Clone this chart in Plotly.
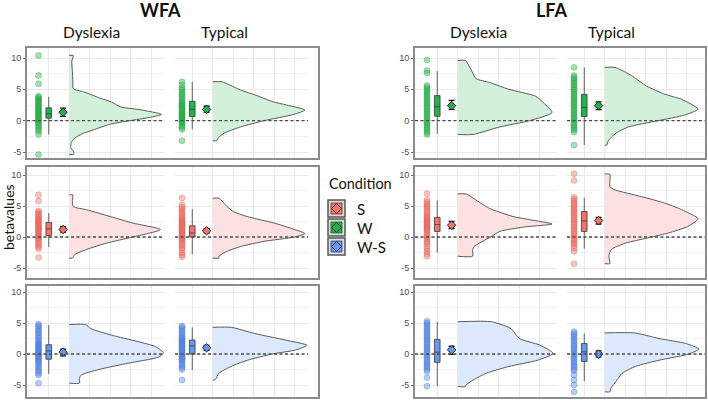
import plotly.graph_objects as go

W_PX, H_PX = 708, 400

# ---------------- data ----------------
panels = ["WFA", "LFA"]
groups = ["Dyslexia", "Typical"]
conditions = ["W", "S", "W-S"]          # rows, top to bottom
legend_order = ["S", "W", "W-S"]

# box = [lower whisker, q1, median, q3, upper whisker]; mean = [mean, low, high]
# violin: vy = heights, vw = half-violin widths (x units)

# WFA / Dyslexia
wfa_dys_w_pts = [10.4, 7.2, 5.9, 3.9, 3.7, 3.5, 3.3, 3.1, 2.9, 2.7, 2.5, 2.3, 2.1, 1.9, 1.7, 1.5,
                 1.3, 1.1, 0.9, 0.7, 0.5, 0.3, 0.1, -0.1, -0.3, -0.5, -0.8, -1.1, -1.4, -1.7, -2.2, -5.4]
wfa_dys_w_box = [-2.2, 0.4, 1.1, 2.05, 3.8]
wfa_dys_w_mean = [1.35, 0.7, 2.0]
wfa_dys_w_vy = [10.4, 9.5, 8.0, 6.5, 5.1, 4.6, 3.6, 3.0, 2.2, 1.75, 1.0, 0.5, 0.0, -0.55, -1.5, -2.0,
                -2.75, -3.5, -4.3, -5.0, -5.4]
wfa_dys_w_vw = [0.4, 0.25, 0.3, 0.35, 0.4, 1.4, 3.0, 4.1, 5.0, 6.9, 9.0, 7.8, 5.9, 4.0, 2.3, 1.4,
                0.55, 0.2, 0.15, 0.45, 0.4]

wfa_dys_s_pts = [6.8, 5.8, 4.2, 4.0, 3.7, 3.5, 3.2, 3.0, 2.8, 2.6, 2.4, 2.2, 2.0, 1.8, 1.6, 1.4,
                 1.2, 1.0, 0.8, 0.6, 0.4, 0.2, 0.0, -0.2, -0.4, -0.7, -1.0, -1.3, -1.6, -1.9, -3.3]
wfa_dys_s_box = [-1.6, 0.25, 1.3, 2.35, 3.85]
wfa_dys_s_mean = [1.2, 0.8, 1.65]
wfa_dys_s_vy = [6.8, 5.9, 4.9, 4.4, 3.3, 2.25, 1.2, 0.0, -1.0, -2.0, -2.8, -3.4]
wfa_dys_s_vw = [0.35, 0.3, 0.4, 1.7, 4.0, 6.2, 8.9, 6.2, 3.6, 1.7, 0.55, 0.3]

wfa_dys_ws_pts = [4.8, 4.6, 4.3, 4.0, 3.7, 3.4, 3.1, 2.8, 2.5, 2.2, 1.9, 1.7, 1.5, 1.3, 1.1, 0.9,
                  0.7, 0.5, 0.3, 0.1, -0.1, -0.3, -0.5, -0.7, -0.9, -1.1, -1.3, -1.6, -1.9, -2.2,
                  -2.5, -2.8, -3.1, -3.4, -4.7]
wfa_dys_ws_box = [-3.2, -0.85, 0.5, 1.5, 4.65]
wfa_dys_ws_mean = [0.3, -0.3, 0.8]
wfa_dys_ws_vy = [4.75, 4.1, 3.05, 2.0, 1.2, 0.2, -0.5, -1.5, -2.3, -3.1, -3.5, -4.0, -4.7]
wfa_dys_ws_vw = [1.6, 2.1, 4.1, 6.7, 8.4, 9.2, 8.7, 5.7, 3.4, 1.6, 1.1, 1.0, 1.0]

# WFA / Typical
wfa_typ_w_pts = [6.2, 5.7, 5.2, 4.9, 4.6, 4.3, 4.0, 3.7, 3.4, 3.1, 2.9, 2.7, 2.5, 2.3, 2.1, 1.9,
                 1.7, 1.5, 1.3, 1.1, 0.9, 0.7, 0.5, 0.3, 0.1, -0.1, -0.3, -0.5, -0.8, -1.1, -1.4, -3.2]
wfa_typ_w_box = [-1.4, 0.65, 1.8, 3.1, 6.2]
wfa_typ_w_mean = [1.8, 1.35, 2.3]
wfa_typ_w_vy = [6.2, 4.9, 4.0, 3.0, 2.5, 1.7, 1.0, 0.0, -1.0, -2.0, -2.8, -3.2]
wfa_typ_w_vw = [0.9, 2.7, 4.3, 5.9, 7.2, 9.0, 7.9, 5.0, 2.7, 1.1, 0.5, 0.4]

wfa_typ_s_pts = [6.3, 5.2, 4.8, 4.5, 4.2, 3.9, 3.6, 3.3, 3.0, 2.8, 2.6, 2.4, 2.2, 2.0, 1.8, 1.6,
                 1.4, 1.2, 1.0, 0.8, 0.6, 0.4, 0.2, 0.0, -0.2, -0.4, -0.6, -0.9, -1.2, -1.5, -1.8,
                 -2.1, -2.6, -2.9, -3.2]
wfa_typ_s_box = [-2.8, 0.0, 0.65, 1.8, 4.5]
wfa_typ_s_mean = [1.0, 0.65, 1.35]
wfa_typ_s_vy = [6.25, 4.9, 4.1, 3.3, 2.25, 1.2, 0.55, 0.0, -0.7, -1.5, -2.3, -3.1, -3.4]
wfa_typ_s_vw = [0.6, 1.4, 2.0, 3.35, 6.0, 8.0, 9.0, 8.0, 5.0, 2.8, 1.4, 0.6, 0.6]

wfa_typ_ws_pts = [4.5, 4.3, 4.0, 3.7, 3.4, 3.1, 2.8, 2.6, 2.4, 2.2, 2.0, 1.8, 1.6, 1.4, 1.2, 1.0,
                  0.8, 0.6, 0.4, 0.2, 0.0, -0.2, -0.4, -0.6, -0.8, -1.0, -1.3, -1.6, -1.9, -2.2,
                  -2.5, -4.2]
wfa_typ_ws_box = [-2.6, 0.0, 1.3, 2.25, 4.3]
wfa_typ_ws_mean = [1.0, 0.6, 1.4]
wfa_typ_ws_vy = [4.3, 3.3, 2.25, 1.4, 0.65, 0.0, -1.0, -2.0, -3.1, -4.0, -4.2]
wfa_typ_ws_vw = [1.8, 4.1, 7.1, 9.2, 8.1, 5.8, 3.4, 1.8, 0.6, 0.3, 0.2]

# LFA / Dyslexia
lfa_dys_w_pts = [9.7, 8.0, 7.6, 5.6, 5.3, 5.0, 4.7, 4.4, 4.1, 3.8, 3.5, 3.2, 2.9, 2.6, 2.3, 2.0,
                 1.7, 1.4, 1.1, 0.8, 0.5, 0.2, -0.1, -0.4, -0.7, -1.0, -1.3, -1.6, -1.9, -2.2]
lfa_dys_w_box = [-2.1, 0.7, 2.2, 4.0, 7.9]
lfa_dys_w_mean = [2.4, 1.8, 3.25]
lfa_dys_w_vy = [9.6, 8.3, 6.7, 6.1, 5.0, 3.9, 2.8, 1.3, 0.0, -1.0, -2.2]
lfa_dys_w_vw = [0.75, 1.25, 1.8, 3.1, 5.0, 7.6, 8.4, 9.2, 7.0, 4.1, 1.5]

lfa_dys_s_pts = [7.0, 6.0, 5.6, 5.3, 5.0, 4.7, 4.4, 4.1, 3.8, 3.5, 3.2, 3.0, 2.8, 2.6, 2.4, 2.2,
                 2.0, 1.8, 1.6, 1.4, 1.2, 1.0, 0.7, 0.4, 0.1, -0.2, -0.5, -0.8, -1.1, -1.5, -1.9,
                 -2.3, -2.7, -3.1]
lfa_dys_s_box = [-2.5, 0.9, 2.0, 3.15, 5.9]
lfa_dys_s_mean = [1.9, 1.35, 2.5]
lfa_dys_s_vy = [6.95, 5.5, 4.6, 3.3, 2.8, 2.1, 1.6, 0.9, 0.0, -1.0, -1.5, -2.0, -3.1]
lfa_dys_s_vw = [0.8, 2.2, 3.1, 5.4, 7.0, 9.2, 6.4, 4.1, 3.2, 2.1, 1.6, 1.45, 1.45]

lfa_dys_ws_pts = [5.3, 5.0, 4.7, 4.4, 4.1, 3.8, 3.5, 3.2, 2.9, 2.6, 2.3, 2.0, 1.7, 1.4, 1.1, 0.8,
                  0.5, 0.2, -0.1, -0.4, -0.7, -1.0, -1.3, -1.6, -1.9, -2.2, -2.5, -2.8, -3.8, -5.2]
lfa_dys_ws_box = [-5.2, -1.35, 0.3, 2.35, 5.2]
lfa_dys_ws_mean = [0.65, -0.05, 1.25]
lfa_dys_ws_vy = [5.2, 4.1, 2.5, 1.45, 0.1, -1.0, -2.0, -3.1, -4.2, -5.0, -5.25]
lfa_dys_ws_vw = [3.3, 5.2, 6.0, 8.0, 9.3, 7.8, 5.0, 2.8, 1.5, 0.8, 0.75]

# LFA / Typical
lfa_typ_w_pts = [8.5, 7.2, 6.9, 6.6, 6.3, 6.0, 5.7, 5.4, 5.1, 4.8, 4.5, 4.2, 3.9, 3.6, 3.3, 3.0,
                 2.7, 2.4, 2.1, 1.8, 1.5, 1.2, 0.9, 0.6, 0.3, 0.0, -0.3, -0.6, -0.9, -1.2, -1.5,
                 -1.8, -3.9]
lfa_typ_w_box = [-3.9, 0.65, 2.1, 4.2, 8.5]
lfa_typ_w_mean = [2.4, 1.75, 3.0]
lfa_typ_w_vy = [8.5, 7.2, 5.5, 4.2, 3.4, 1.85, 0.9, 0.0, -1.0, -2.1, -3.2, -3.9]
lfa_typ_w_vw = [1.0, 2.6, 4.1, 5.9, 7.5, 9.1, 7.8, 5.2, 2.3, 1.0, 0.35, 0.2]

lfa_typ_s_pts = [10.2, 9.1, 6.4, 6.1, 5.8, 5.5, 5.2, 4.9, 4.6, 4.3, 4.0, 3.7, 3.4, 3.1, 2.8, 2.5,
                 2.2, 1.9, 1.6, 1.3, 1.0, 0.7, 0.4, 0.1, -0.2, -0.5, -0.8, -1.1, -1.4, -1.8, -2.3, -4.3]
lfa_typ_s_box = [-1.9, 0.9, 2.6, 4.1, 6.35]
lfa_typ_s_mean = [2.65, 2.1, 3.15]
lfa_typ_s_vy = [10.15, 9.0, 8.1, 7.6, 6.5, 5.45, 4.4, 2.95, 1.7, 0.65, 0.0, -1.0, -2.0, -3.0, -4.3]
lfa_typ_s_vw = [0.5, 0.5, 0.5, 1.0, 3.6, 5.9, 7.5, 9.1, 8.1, 6.2, 4.6, 2.0, 0.65, 0.4, 0.5]

lfa_typ_ws_pts = [3.6, 3.3, 3.0, 2.7, 2.4, 2.1, 1.8, 1.5, 1.2, 0.9, 0.6, 0.3, 0.0, -0.3, -0.6, -0.9,
                  -1.2, -1.5, -1.8, -2.1, -2.4, -2.7, -3.4, -4.2, -5.0, -6.1]
lfa_typ_ws_box = [-4.4, -1.2, 0.35, 1.7, 3.3]
lfa_typ_ws_mean = [0.0, -0.45, 0.5]
lfa_typ_ws_vy = [3.4, 2.5, 1.7, 0.8, 0.0, -1.0, -2.0, -3.1, -4.4, -5.5, -6.1]
lfa_typ_ws_vw = [2.9, 5.3, 7.9, 9.2, 8.2, 5.3, 3.0, 1.7, 1.1, 0.6, 0.5]

cells = {
    ("WFA", "Dyslexia", "W"): (wfa_dys_w_pts, wfa_dys_w_box, wfa_dys_w_mean, wfa_dys_w_vy, wfa_dys_w_vw),
    ("WFA", "Dyslexia", "S"): (wfa_dys_s_pts, wfa_dys_s_box, wfa_dys_s_mean, wfa_dys_s_vy, wfa_dys_s_vw),
    ("WFA", "Dyslexia", "W-S"): (wfa_dys_ws_pts, wfa_dys_ws_box, wfa_dys_ws_mean, wfa_dys_ws_vy, wfa_dys_ws_vw),
    ("WFA", "Typical", "W"): (wfa_typ_w_pts, wfa_typ_w_box, wfa_typ_w_mean, wfa_typ_w_vy, wfa_typ_w_vw),
    ("WFA", "Typical", "S"): (wfa_typ_s_pts, wfa_typ_s_box, wfa_typ_s_mean, wfa_typ_s_vy, wfa_typ_s_vw),
    ("WFA", "Typical", "W-S"): (wfa_typ_ws_pts, wfa_typ_ws_box, wfa_typ_ws_mean, wfa_typ_ws_vy, wfa_typ_ws_vw),
    ("LFA", "Dyslexia", "W"): (lfa_dys_w_pts, lfa_dys_w_box, lfa_dys_w_mean, lfa_dys_w_vy, lfa_dys_w_vw),
    ("LFA", "Dyslexia", "S"): (lfa_dys_s_pts, lfa_dys_s_box, lfa_dys_s_mean, lfa_dys_s_vy, lfa_dys_s_vw),
    ("LFA", "Dyslexia", "W-S"): (lfa_dys_ws_pts, lfa_dys_ws_box, lfa_dys_ws_mean, lfa_dys_ws_vy, lfa_dys_ws_vw),
    ("LFA", "Typical", "W"): (lfa_typ_w_pts, lfa_typ_w_box, lfa_typ_w_mean, lfa_typ_w_vy, lfa_typ_w_vw),
    ("LFA", "Typical", "S"): (lfa_typ_s_pts, lfa_typ_s_box, lfa_typ_s_mean, lfa_typ_s_vy, lfa_typ_s_vw),
    ("LFA", "Typical", "W-S"): (lfa_typ_ws_pts, lfa_typ_ws_box, lfa_typ_ws_mean, lfa_typ_ws_vy, lfa_typ_ws_vw),
}

# ---------------- styles / layout ----------------
colors = {
    "W": dict(point="rgba(40,180,75,0.42)", edge="rgba(30,150,60,0.55)", box="#22b14c",
              violin="#d3f1da", key="#c6ebcf"),
    "S": dict(point="rgba(240,110,100,0.40)", edge="rgba(210,80,70,0.5)", box="#f2736a",
              violin="#fde1e1", key="#f9cfcf"),
    "W-S": dict(point="rgba(85,135,230,0.42)", edge="rgba(60,110,210,0.55)", box="#6897ee",
                violin="#dce8fb", key="#d2e1f8"),
}

PX = 10.25  # pixels per x unit
X_BOX, X_MEAN, X_VIOLIN = 1.0, 2.4, 3.0
# left, right, pixel of x=0 for each subplot column
col_px = {("WFA", "Dyslexia"): (27, 164, 38.5), ("WFA", "Typical"): (175, 308, 182),
          ("LFA", "Dyslexia"): (415, 557, 427), ("LFA", "Typical"): (567, 705, 574)}
# top, bottom, pixel of y=10, pixel of y=-5 for each row
row_px = [(48, 158, 58, 152), (167, 278, 175, 268), (286, 397, 292, 385)]
frame_x = {"WFA": (26, 319), "LFA": (414, 706)}
frame_y = [(47, 159), (166, 279), (285, 398)]

FONT = "Lato"
GRID = "#e9e9e9"

fig = go.Figure()
axes = {}
shapes = []

for pi, panel in enumerate(panels):
    for ri, cond in enumerate(conditions):
        t, b, y10, ym5 = row_px[ri]
        p = (ym5 - y10) / 15
        yr = [-5 - (b - ym5) / p, 10 + (y10 - t) / p]
        c = colors[cond]
        for gi, group in enumerate(groups):
            n = 1 + pi * 6 + ri * 2 + gi
            sfx = "" if n == 1 else str(n)
            left, right, x0 = col_px[(panel, group)]
            axes["xaxis" + sfx] = dict(
                domain=[left / W_PX, right / W_PX], range=[(left - x0) / PX, (right - x0) / PX],
                anchor="y" + sfx, type="linear", tickvals=[1, 3, 5, 7, 9, 11], showticklabels=False,
                showgrid=True, gridcolor=GRID, gridwidth=1, zeroline=False, ticks="", fixedrange=True)
            axes["yaxis" + sfx] = dict(
                domain=[1 - b / H_PX, 1 - t / H_PX], range=yr, anchor="x" + sfx,
                tickvals=[-5, 0, 5, 10], ticktext=["-5", "0", "5", "10"],
                showticklabels=(gi == 0), ticks="outside" if gi == 0 else "", ticklen=3,
                tickcolor="#666", tickfont=dict(family="Liberation Sans", size=9, color="#4d4d4d"),
                showgrid=True, gridcolor=GRID, gridwidth=1, zeroline=False, automargin=False,
                minor=dict(tickvals=[-2.5, 2.5, 7.5], showgrid=True, gridcolor="#f3f3f3", ticks=""))

            pts, box, mean, vy, vw = cells[(panel, group, cond)]
            xa, ya = "x" + sfx, "y" + sfx

            # half violin (outline smoothed; the base edge closes straight)
            fig.add_trace(go.Scatter(
                x=[X_VIOLIN] + [X_VIOLIN + w for w in vw] + [X_VIOLIN],
                y=[vy[0]] + vy + [vy[-1]], mode="lines", fill="toself",
                fillcolor=c["violin"], line=dict(color="#5a5a5a", width=1, shape="spline", smoothing=0.6),
                xaxis=xa, yaxis=ya, showlegend=False, hoverinfo="skip"))
            # raw points
            fig.add_trace(go.Scatter(
                x=[0] * len(pts), y=pts, mode="markers",
                marker=dict(size=6, color=c["point"], line=dict(width=0.6, color=c["edge"])),
                xaxis=xa, yaxis=ya, showlegend=False))
            # box
            fig.add_trace(go.Box(
                x=[X_BOX], lowerfence=[box[0]], q1=[box[1]], median=[box[2]], q3=[box[3]],
                upperfence=[box[4]], width=0.55, whiskerwidth=0, fillcolor=c["box"],
                line=dict(color="#3a3a3a", width=0.8), boxpoints=False,
                xaxis=xa, yaxis=ya, showlegend=False))
            # mean + error bar
            fig.add_trace(go.Scatter(
                x=[X_MEAN], y=[mean[0]], mode="markers",
                marker=dict(symbol="diamond", size=6.5, color=c["box"], line=dict(color="#222", width=1)),
                error_y=dict(type="data", symmetric=False, array=[mean[2] - mean[0]],
                             arrayminus=[mean[0] - mean[1]], color="#111", thickness=1.3, width=3),
                xaxis=xa, yaxis=ya, showlegend=False))
            # dashed zero line
            shapes.append(dict(type="line", xref=xa + " domain", x0=0, x1=1, yref=ya, y0=0, y1=0,
                               line=dict(color="#4a4a4a", width=1.3, dash="3px,2.5px"), layer="above"))

        fx0, fx1 = frame_x[panel]
        fy0, fy1 = frame_y[ri]
        shapes.append(dict(type="rect", xref="paper", yref="paper",
                           x0=fx0 / W_PX, x1=fx1 / W_PX, y0=1 - fy1 / H_PX, y1=1 - fy0 / H_PX,
                           line=dict(color="#8c8c8c", width=2), fillcolor="rgba(0,0,0,0)"))

annotations = []


def text(s, x, y, size, bold=False, xanchor="center", angle=0):
    annotations.append(dict(text=f"<b>{s}</b>" if bold else s, x=x / W_PX, y=1 - y / H_PX,
                            xref="paper", yref="paper", showarrow=False, xanchor=xanchor,
                            yanchor="middle", textangle=angle,
                            font=dict(family=FONT, size=size, color="#111")))


text("WFA", 160, 10, 18, bold=True)
text("LFA", 551, 10, 18, bold=True)
text("Dyslexia", 91, 32, 15.5)
text("Typical", 224, 32, 15.5)
text("Dyslexia", 478, 32, 15.5)
text("Typical", 611, 32, 15.5)
text("betavalues", 8, 217, 14, angle=-90)

# legend
text("Condition", 327, 183, 14.5, xanchor="left")
for li, cond in enumerate(legend_order):
    c = colors[cond]
    top = 200 + li * 19
    kx0, kx1, ky0, ky1 = 328, 345, top, top + 17
    shapes.append(dict(type="rect", xref="paper", yref="paper", x0=kx0 / W_PX, x1=kx1 / W_PX,
                       y0=1 - ky1 / H_PX, y1=1 - ky0 / H_PX, fillcolor=c["key"],
                       line=dict(color="#555", width=1.5)))
    shapes.append(dict(type="rect", xref="paper", yref="paper", x0=(kx0 + 3) / W_PX,
                       x1=(kx1 - 3) / W_PX, y0=1 - (ky1 - 3) / H_PX, y1=1 - (ky0 + 3) / H_PX,
                       fillcolor=c["box"], line=dict(color="#444", width=0.8)))
    cx, cy = (kx0 + kx1) / 2, (ky0 + ky1) / 2
    shapes.append(dict(type="path", xref="paper", yref="paper",
                       path=(f"M {(cx - 5) / W_PX} {1 - cy / H_PX} L {cx / W_PX} {1 - (cy - 5) / H_PX} "
                             f"L {(cx + 5) / W_PX} {1 - cy / H_PX} L {cx / W_PX} {1 - (cy + 5) / H_PX} Z"),
                       fillcolor=c["box"], line=dict(color="#333", width=1)))
    text(cond, 355, cy, 15, xanchor="left")

fig.update_layout(
    width=W_PX, height=H_PX, margin=dict(l=0, r=0, t=0, b=0),
    paper_bgcolor="white", plot_bgcolor="white", showlegend=False,
    shapes=shapes, annotations=annotations, **axes)

# the page's default body margin would shift the figure by 8px
fig.write_html("out.html", config={"displayModeBar": False},
               post_script="document.body.style.margin='0';document.body.style.overflow='hidden';")
